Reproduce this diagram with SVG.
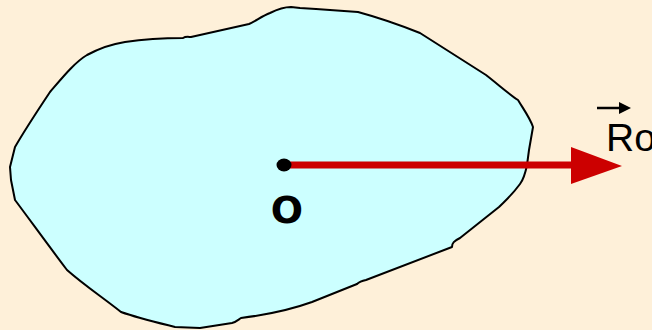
<svg xmlns="http://www.w3.org/2000/svg" width="652" height="330" viewBox="0 0 652 330">
<defs>
<style>
.blob{fill:#CCFFFF;stroke:#000;stroke-width:2;stroke-linejoin:round}
.vec{stroke:#CC0000;stroke-width:7;fill:none}
.lbl{font-family:"Liberation Sans",Arial,sans-serif;fill:#000}
.bold{font-family:"DejaVu Sans",Verdana,sans-serif;font-weight:bold;fill:#000}
</style>
</defs>
<rect width="652" height="330" fill="#FEF0D9"/>
<g id="body">
<path class="blob" d="M183,38 C186,36 189,37 191,37 L249,24 C256,21 262,16 270,13 C278,9 284,7 291,7 L300,8 L316,9 L358,12 C380,18 400,25 420,33 L486,75 C500,86 510,95 518,100 C524,110 530,118 533,127 L529,150 L527,165 C525,175 523,180 520,184 C512,195 506,200 499,207 L460,238 C454,241 452,243 452,247 L366,280 C361,281 359,282 357,284 L312,302 C290,310 265,315 241,318 C238,320 236,322 232,323 L200,328 L175,327 C155,322 138,318 121,312 C102,297 84,285 67,270 C48,245 30,220 15,200 L11,180 L10,167 L15,147 C26,128 38,110 50,92 C62,78 75,62 87,55 C100,48 112,44 125,42 C145,39 165,38 183,38 Z"/>
</g>
<g id="connectors">
<line class="vec" x1="284" y1="165" x2="574" y2="165"/>
<polygon points="571,147 622,166 571,184" fill="#CC0000"/>
</g>
<g id="point-O">
<ellipse cx="284" cy="165" rx="7.5" ry="6.5" fill="#000"/>
<text class="bold" x="287" y="223" font-size="38" text-anchor="middle">O</text>
</g>
<g id="label-R">
<line x1="597" y1="108" x2="622" y2="108" stroke="#000" stroke-width="2.5"/>
<polygon points="619,102 631,108 619,114" fill="#000"/>
<text class="lbl" x="606" y="151" font-size="39">Ro</text>
</g>
</svg>
